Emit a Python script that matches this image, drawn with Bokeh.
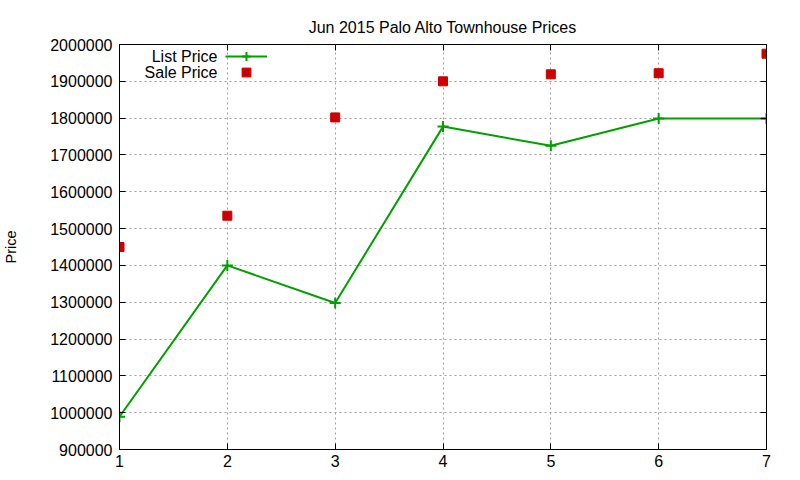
from bokeh.plotting import figure
from bokeh.embed import file_html
from bokeh.resources import INLINE
from bokeh.models import (ColumnDataSource, Range1d, LinearAxis, SingleIntervalTicker,
                          NumeralTickFormatter, CustomJSTickFormatter, Legend, LegendItem, Label)

months = [1, 2, 3, 4, 5, 6, 7]
list_price = [989000, 1400000, 1298000, 1777000, 1725000, 1799000, 1799000]
sale_price = [1450000, 1535000, 1802000, 1900000, 1919000, 1922000, 1975000]
title_text = "Jun 2015 Palo Alto Townhouse Prices"
y_label = "Price"
series_names = ["List Price", "Sale Price"]

FONT = "Liberation Sans"
GREEN = "#00a000"
RED = "#cc0000"
FS = "16px"

src = ColumnDataSource(dict(x=months, lp=list_price, sp=sale_price))

p = figure(frame_width=647, frame_height=405, output_backend="svg", toolbar_location=None,
           x_range=Range1d(1, 7), y_range=Range1d(900000, 2000000),
           min_border_left=111, min_border_right=20, min_border_top=44, min_border_bottom=23,
           title=title_text)
p.title.align = "center"
p.title.text_font = FONT
p.title.text_font_size = FS
p.title.text_font_style = "normal"
p.title.text_color = "black"
p.title.standoff = 18

p.outline_line_color = "black"
p.outline_line_width = 1

xt = SingleIntervalTicker(interval=1)
yt = SingleIntervalTicker(interval=100000)

for ax in p.xaxis:
    ax.ticker = xt
for ax in p.yaxis:
    ax.ticker = yt
    ax.formatter = NumeralTickFormatter(format="0")
    ax.axis_label = y_label
    ax.axis_label_text_font = FONT
    ax.axis_label_text_font_size = "14.5px"
    ax.axis_label_text_font_style = "normal"
    ax.axis_label_text_color = "black"
    ax.axis_label_standoff = 28

blank = CustomJSTickFormatter(code="return ''")
p.add_layout(LinearAxis(ticker=xt, formatter=blank), "above")
p.add_layout(LinearAxis(ticker=yt, formatter=blank), "right")

for ax in p.axis:
    ax.major_tick_out = 0
    ax.major_tick_in = 6
    ax.minor_tick_out = 0
    ax.minor_tick_in = 0
    ax.axis_line_color = "black"
    ax.major_tick_line_color = "black"
    ax.major_label_text_font = FONT
    ax.major_label_text_font_size = FS
    ax.major_label_text_color = "black"
for ax in p.yaxis:
    ax.major_label_standoff = 7
for ax in p.xaxis:
    ax.major_label_standoff = 5

for g in (p.xgrid, p.ygrid):
    g.grid_line_color = "#a0a0a0"
    g.grid_line_dash = "2 3"
    g.grid_line_width = 1

r_line = p.line("x", "lp", source=src, line_color=GREEN, line_width=2)
r_cross = p.scatter("x", "lp", source=src, marker="cross", size=11, line_color=GREEN, line_width=2)
r_sq = p.scatter("x", "sp", source=src, marker="square", size=9, fill_color=RED, line_color=RED)

legend_renderers = [[r_line, r_cross], [r_sq]]
for i, rends in enumerate(legend_renderers):
    lg = Legend(items=[LegendItem(label=" ", renderers=rends)],
                location=(106, 382 - 16 * i), glyph_width=42, glyph_height=22, label_height=22,
                label_standoff=0, label_width=0, padding=0, spacing=0, margin=0,
                border_line_color=None, background_fill_alpha=0,
                label_text_font_size="10px")
    p.add_layout(lg, "center")

for i, name in enumerate(series_names):
    p.add_layout(Label(x=98, y=393 - 16 * i, x_units="screen", y_units="screen", text=name,
                       text_align="right", text_baseline="middle", text_font=FONT,
                       text_font_size=FS, text_color="black"))

open("out.html", "w").write(file_html(p, INLINE))
